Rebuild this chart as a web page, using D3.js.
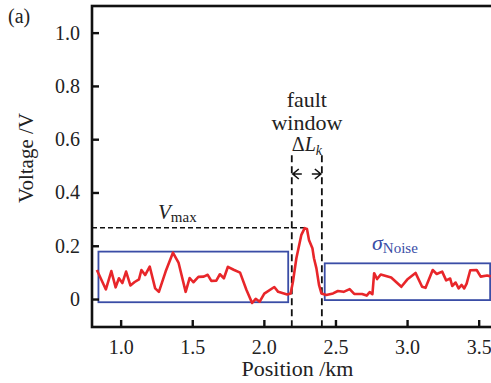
<!DOCTYPE html>
<html>
<head>
<meta charset="utf-8">
<script src="https://cdn.jsdelivr.net/npm/d3@7"></script>
<style>
  body { margin: 0; background: #fff; }
</style>
</head>
<body>
<script>
// position (km) and voltage (V)
var positions = [0.834, 0.897, 0.935, 0.965, 0.988, 1.012, 1.038, 1.068, 1.098, 1.128,
  1.145, 1.171, 1.203, 1.241, 1.267, 1.314, 1.365, 1.404, 1.454, 1.482,
  1.508, 1.543, 1.580, 1.608, 1.633, 1.668, 1.693, 1.721, 1.749, 1.789,
  1.834, 1.878, 1.918, 1.943, 1.971, 2.003, 2.073, 2.100, 2.163, 2.187,
  2.203, 2.227, 2.262, 2.285, 2.301, 2.315, 2.339, 2.350, 2.367, 2.385,
  2.402, 2.436, 2.483, 2.517, 2.557, 2.599, 2.631, 2.686, 2.718, 2.739,
  2.758, 2.770, 2.791, 2.816, 2.889, 2.960, 3.001, 3.059, 3.105, 3.129,
  3.179, 3.207, 3.245, 3.273, 3.301, 3.315, 3.339, 3.360, 3.381, 3.399,
  3.416, 3.441, 3.486, 3.514, 3.559, 3.584];
var voltages = [0.109, 0.036, 0.105, 0.044, 0.078, 0.060, 0.103, 0.051, 0.064, 0.074,
  0.109, 0.090, 0.122, 0.040, 0.027, 0.103, 0.174, 0.137, 0.027, 0.079,
  0.063, 0.083, 0.084, 0.091, 0.068, 0.069, 0.093, 0.078, 0.121, 0.110,
  0.099, 0.035, -0.015, 0.001, -0.010, 0.020, 0.045, 0.027, 0.017, 0.021,
  0.065, 0.153, 0.241, 0.266, 0.263, 0.222, 0.191, 0.153, 0.115, 0.053,
  0.021, 0.015, 0.021, 0.030, 0.027, 0.037, 0.019, 0.019, 0.013, 0.026,
  0.018, 0.097, 0.075, 0.092, 0.081, 0.046, 0.073, 0.098, 0.046, 0.042,
  0.109, 0.094, 0.103, 0.070, 0.077, 0.049, 0.062, 0.040, 0.053, 0.040,
  0.058, 0.108, 0.109, 0.084, 0.088, 0.085];

var xTicks = [1.0, 1.5, 2.0, 2.5, 3.0, 3.5];
var yTicks = [0, 0.2, 0.4, 0.6, 0.8, 1.0];

// annotations, in data units
var windowEdges = [2.195, 2.405];
var windowTop = 0.54;
var vmax = 0.268;
var vmaxPos = 2.29;
var noiseBoxes = [
  { x0: 0.845, x1: 2.17, y0: -0.012, y1: 0.178 },
  { x0: 2.425, x1: 3.58, y0: -0.004, y1: 0.134 }
];

var width = 491, height = 383;
var margin = { top: 6, left: 92, bottom: 56 };
var serif = "'Liberation Serif', 'Times New Roman', serif";

var x = d3.scaleLinear().domain([0.8, 3.6]).range([margin.left, 493]);
var y = d3.scaleLinear().domain([-0.105, 1.1]).range([height - margin.bottom, margin.top]);

var svg = d3.select("body").append("svg")
  .attr("width", width)
  .attr("height", height);

var blue = "#3a4da6";

// noise boxes
svg.selectAll("rect.noise")
  .data(noiseBoxes)
  .enter().append("rect")
  .attr("class", "noise")
  .attr("x", function(d) { return x(d.x0); })
  .attr("y", function(d) { return y(d.y1); })
  .attr("width", function(d) { return x(d.x1) - x(d.x0); })
  .attr("height", function(d) { return y(d.y0) - y(d.y1); })
  .attr("fill", "none")
  .attr("stroke", blue)
  .attr("stroke-width", 1.8);

// window edges
svg.selectAll("line.win")
  .data(windowEdges)
  .enter().append("line")
  .attr("class", "win")
  .attr("x1", function(d) { return x(d); })
  .attr("x2", function(d) { return x(d); })
  .attr("y1", y(windowTop))
  .attr("y2", y(-0.105))
  .attr("stroke", "#111")
  .attr("stroke-width", 1.8)
  .attr("stroke-dasharray", "7,4");

// Vmax line
svg.append("line")
  .attr("x1", x(0.8)).attr("x2", x(vmaxPos))
  .attr("y1", y(vmax)).attr("y2", y(vmax))
  .attr("stroke", "#111")
  .attr("stroke-width", 1.5)
  .attr("stroke-dasharray", "5,3");

// trace
var line = d3.line()
  .x(function(d, i) { return x(positions[i]); })
  .y(function(d) { return y(d); });

svg.append("path")
  .datum(voltages)
  .attr("d", line)
  .attr("fill", "none")
  .attr("stroke", "#e8262a")
  .attr("stroke-width", 2.6)
  .attr("stroke-linejoin", "round");

// axes
var xAxis = d3.axisBottom(x).tickValues(xTicks).tickFormat(d3.format(".1f"))
  .tickSizeInner(-7).tickSizeOuter(0).tickPadding(13);
var yAxis = d3.axisLeft(y).tickValues(yTicks)
  .tickFormat(function(d) { return d === 0 ? "0" : d3.format(".1f")(d); })
  .tickSizeInner(-7).tickSizeOuter(0).tickPadding(12);

var gx = svg.append("g")
  .attr("transform", "translate(0," + y(-0.105) + ")")
  .call(xAxis);
var gy = svg.append("g")
  .attr("transform", "translate(" + x(0.8) + ",0)")
  .call(yAxis);

[gx, gy].forEach(function(g) {
  g.select(".domain").remove();
  g.selectAll(".tick line").attr("stroke", "#111").attr("stroke-width", 2.4);
  g.selectAll(".tick text").attr("font-size", 20);
});

// frame
svg.append("rect")
  .attr("x", x(0.8)).attr("y", y(1.1))
  .attr("width", x(3.6) - x(0.8))
  .attr("height", y(-0.105) - y(1.1))
  .attr("fill", "none")
  .attr("stroke", "#111")
  .attr("stroke-width", 2.6);

// titles
svg.append("text")
  .attr("x", (x(0.8) + 491) / 2 + 6).attr("y", 376)
  .attr("text-anchor", "middle").attr("font-size", 22)
  .text("Position /km");

svg.append("text")
  .attr("transform", "translate(33," + 158 + ") rotate(-90)")
  .attr("text-anchor", "middle").attr("font-size", 21)
  .text("Voltage /V");

svg.append("text")
  .attr("x", 8).attr("y", 23).attr("font-size", 20)
  .text("(a)");

// fault window label
var midWin = (x(windowEdges[0]) + x(windowEdges[1])) / 2;
svg.append("text").attr("x", midWin).attr("y", 107)
  .attr("text-anchor", "middle").attr("font-size", 22).text("fault");
svg.append("text").attr("x", midWin).attr("y", 130)
  .attr("text-anchor", "middle").attr("font-size", 22).text("window");

var dl = svg.append("text").attr("x", x(windowEdges[0])).attr("y", 151).attr("font-size", 20);
dl.append("tspan").text("\u0394");
dl.append("tspan").attr("font-style", "italic").text("L");
dl.append("tspan").attr("font-style", "italic").attr("font-size", 14).attr("dy", 4).text("k");

// arrows
var ay = 174;
[[midWin - 5, x(windowEdges[0]) + 1, 1], [midWin + 5, x(windowEdges[1]) - 1, -1]].forEach(function(a) {
  svg.append("path")
    .attr("d", "M" + a[0] + "," + ay + "H" + a[1] +
      "M" + (a[1] + 6 * a[2]) + "," + (ay - 5) + "L" + a[1] + "," + ay + "L" + (a[1] + 6 * a[2]) + "," + (ay + 5))
    .attr("fill", "none").attr("stroke", "#111").attr("stroke-width", 1.6);
});

// Vmax label
var vm = svg.append("text").attr("x", 158).attr("y", 219).attr("font-size", 21);
vm.append("tspan").attr("font-style", "italic").text("V");
vm.append("tspan").attr("font-size", 15).attr("dy", 3).text("max");

// sigma noise label
var sn = svg.append("text").attr("x", 372).attr("y", 250).attr("font-size", 22)
  .attr("class", "blue");
sn.append("tspan").attr("font-style", "italic").text("\u03c3");
sn.append("tspan").attr("font-size", 15).attr("dy", 3).text("Noise");

// serif everywhere, inline so it wins over the axis defaults
svg.selectAll("text")
  .style("font-family", serif)
  .style("fill", "#222");
sn.style("fill", blue);
</script>
</body>
</html>
